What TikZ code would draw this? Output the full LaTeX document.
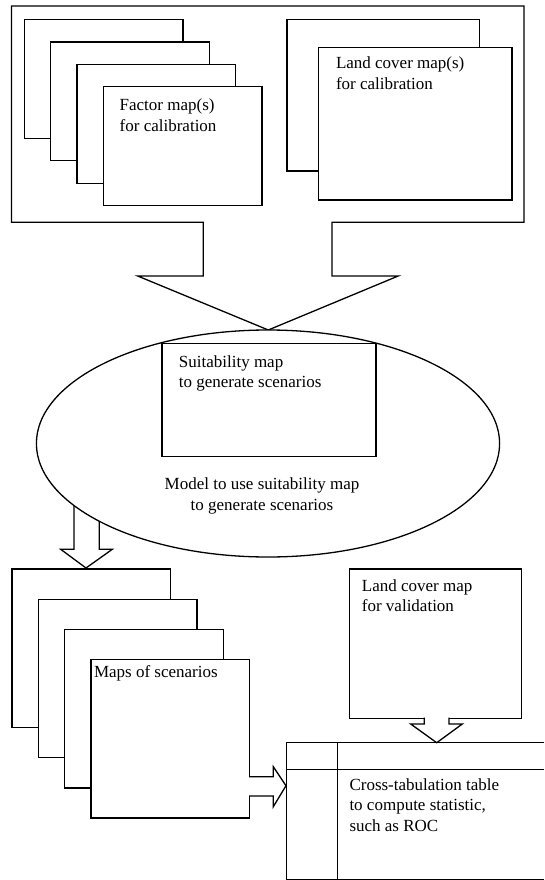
\documentclass[tikz,border=0pt]{standalone}
\usepackage{fontspec}
\setmainfont{Liberation Serif}
\usetikzlibrary{shapes.geometric}

\begin{document}
\begin{tikzpicture}[x=1pt,y=-1pt,
  mapbox/.style={draw,fill=white,line width=1.3pt,inner sep=0pt,anchor=north west},
  maptext/.style={anchor=north west,align=left,inner sep=0pt,font=\fontsize{17}{20.5}\selectfont},
  blockarrow/.style={draw,fill=white,line width=1.3pt,line join=miter}]
\useasboundingbox (0,0) rectangle (544,880);

% frame round the inputs, running into the arrow
\draw[blockarrow] (11.4,6) -- (523.9,6) -- (523.9,222.3) -- (332,222.3) -- (332,276) -- (398.2,276)
  -- (268.3,330) -- (137.7,276) -- (203.3,276) -- (203.3,222.3) -- (11.4,222.3) -- cycle;

% factor maps
\foreach \i in {1,...,4}
  \node[mapbox,minimum width=158.6,minimum height=118.7] (fac\i) at ({23.6+26.4*(\i-1)},{19+22.4*(\i-1)}) {};
\node[maptext] (factxt) at ([shift={(16.7,12.7)}]fac4.north west) {Factor map(s)\\for calibration};

% land cover maps
\node[mapbox,minimum width=192.8,minimum height=151.3] (lcc1) at (286.2,19) {};
\node[mapbox,minimum width=193.2,minimum height=152.3] (lcc2) at (318.1,47) {};
\node[maptext] (lcctxt) at ([shift={(17.7,10)}]lcc2.north west) {Land cover map(s)\\for calibration};

% arrow out of the model
\draw[blockarrow] (74,480) -- (74,549.3) -- (60.7,549.3) -- (86,568) -- (112.3,549.3) -- (99.3,549.3) -- (99.3,480);

% model
\node[ellipse,draw,fill=white,line width=1.3pt,inner sep=0pt,minimum width=463.2,minimum height=227] (model) at (268,443.5) {};
\node[mapbox,minimum width=214.1,minimum height=113] (suit) at (161.3,342.7) {};
\node[maptext] (suittxt) at ([shift={(17.4,12.3)}]suit.north west) {Suitability map\\to generate scenarios};
\node[align=center,inner sep=0pt,font=\fontsize{17}{20.5}\selectfont] (modeltxt) at (262,496) {Model to use suitability map\\to generate scenarios};

% maps of scenarios
\foreach \i in {1,...,4}
  \node[mapbox,minimum width=158.7,minimum height=158.5] (scn\i) at ({11.4+26.3*(\i-1)},{568.3+30.2*(\i-1)}) {};
\node[maptext] (scntxt) at ([shift={(3.5,6)}]scn4.north west) {Maps of scenarios};

% validation map
\node[mapbox,minimum width=172.4,minimum height=149.4] (val) at (348.7,568.3) {};
\node[maptext] (valtxt) at ([shift={(13,10.7)}]val.north west) {Land cover map\\for validation};
\draw[blockarrow] (424.3,717.7) -- (424.3,724) -- (410.7,724) -- (436.7,742.7) -- (462.3,724) -- (449,724) -- (449,717.7);

% arrow into the table
\draw[blockarrow] (249.1,776.7) -- (273.3,776.7) -- (273.3,766.7) -- (286,785.7) -- (273.3,806.7) -- (273.3,796) -- (249.1,796);

% cross-tabulation table
\draw[line width=1.3pt] (544,742.7) -- (286.2,742.7) -- (286.2,879.3) -- (544,879.3);
\draw[line width=1.3pt] (286.2,769.3) -- (544,769.3);
\draw[line width=1.3pt] (337.6,742.7) -- (337.6,879.3);
\node[maptext] (tabtxt) at (349.3,778) {Cross-tabulation table\\to compute statistic,\\such as ROC};
\end{tikzpicture}
\end{document}
